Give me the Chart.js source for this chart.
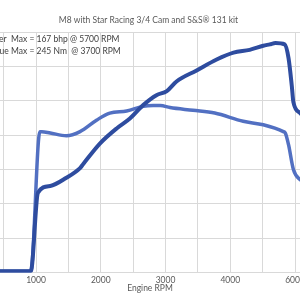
<!DOCTYPE html>
<html>
<head>
<meta charset="utf-8">
<script src="https://cdn.jsdelivr.net/npm/chart.js@4.4.1/dist/chart.umd.min.js"></script>
<style>
  html, body { margin: 0; padding: 0; width: 300px; height: 300px; overflow: hidden; background: #fff; }
  #wrap { position: absolute; left: -20px; top: 0; width: 360px; height: 300px; }
</style>
</head>
<body>
<div id="wrap"><canvas id="c" width="360" height="300"></canvas></div>
<script>
// ---- data ----
const chartTitle = 'M8 with Star Racing 3/4 Cam and S&S\u00AE 131 kit';
const powerNote = 'Power  Max = 167 bhp @ 5700 RPM';
const torqueNote = 'Torque Max = 245 Nm  @ 3700 RPM';
const xAxisTitle = 'Engine RPM';

const powerRpm = [0, 920, 1030, 1220, 1470, 1680, 1730, 1990, 2250, 2450, 2660, 2860, 3020, 3170, 3480, 3790, 4050, 4300, 4510, 4610, 4700, 4840, 4900, 4950, 4975, 5080, 5200];
const powerBhp = [1, 1, 58, 63, 69, 76, 79, 94, 105, 112, 122, 129, 132, 139, 147, 155, 160, 162, 165, 166, 167, 166, 156, 136, 124, 116, 110];

const torqueRpm = [0, 920, 1060, 1090, 1220, 1470, 1680, 1940, 2140, 2400, 2660, 2810, 2920, 3070, 3425, 3760, 4200, 4510, 4820, 4850, 4900, 4975, 5080, 5200];
const torqueNm = [2, 2, 205, 205, 203, 199, 205, 222, 232, 235, 242, 243, 243, 240, 236, 232, 220, 215, 205, 203, 186, 150, 135, 130];

const xGridValues = [500, 1000, 1500, 2000, 2500, 3000, 3500, 4000, 4500, 5000];
const xTickLabels = ['', '1000', '', '2000', '', '3000', '', '4000', '', '6000'];

const powerColor = '#2E4C9F';
const torqueColor = '#5270C2';
const gridColor = '#D9D9D9';
const textColor = '#595959';
const FONT = 'Lato, "Liberation Sans", sans-serif';
const FS = 8.5;

const toPoints = (xs, ys) => xs.map((x, i) => ({ x: x, y: ys[i] }));

const textPlugin = {
  id: 'texts',
  afterDraw(chart) {
    const ctx = chart.ctx;
    const off = 20; // canvas is shifted 20px left of the page
    ctx.save();
    ctx.font = FS + 'px ' + FONT;
    ctx.fillStyle = textColor;
    ctx.textBaseline = 'middle';
    ctx.textAlign = 'center';
    ctx.fillText(chartTitle, 148.5 + off, 20);
    ctx.textAlign = 'left';
    ctx.fillStyle = '#404040';
    const p1 = ctx.measureText('Power  ').width;
    const p2 = ctx.measureText('Torque ').width;
    ctx.fillText(powerNote, 11 + off - p1, 39);
    ctx.fillText(torqueNote, 11 + off - p2, 51);
    ctx.restore();
  }
};

new Chart(document.getElementById('c'), {
  type: 'line',
  data: {
    datasets: [
      { label: 'Power', data: toPoints(powerRpm, powerBhp), yAxisID: 'yP',
        borderColor: powerColor, borderWidth: 4, pointRadius: 0, cubicInterpolationMode: 'monotone', fill: false },
      { label: 'Torque', data: toPoints(torqueRpm, torqueNm), yAxisID: 'yT',
        borderColor: torqueColor, borderWidth: 3.5, pointRadius: 0, cubicInterpolationMode: 'monotone', fill: false }
    ]
  },
  options: {
    responsive: false,
    animation: false,
    devicePixelRatio: 1,
    layout: { padding: { left: 0, right: 20, top: 32, bottom: 0 } },
    plugins: { legend: { display: false }, tooltip: { enabled: false }, title: { display: false } },
    scales: {
      x: {
        type: 'linear',
        min: 135, max: 5386,
        afterBuildTicks: s => { s.ticks = xGridValues.map(v => ({ value: v })); },
        afterFit: s => { s.height = 27.5; },
        grid: { color: gridColor, lineWidth: 1, drawTicks: false },
        border: { display: false },
        ticks: {
          autoSkip: false, maxRotation: 0, padding: 3,
          color: textColor, font: { family: FONT, size: FS },
          callback: (v) => { const i = xGridValues.indexOf(v); return i >= 0 ? xTickLabels[i] : ''; }
        },
        title: { display: true, text: xAxisTitle, color: textColor, font: { family: FONT, size: FS }, padding: { top: 0, bottom: 7 } }
      },
      yT: {
        type: 'linear', position: 'left', min: 0, max: 350,
        ticks: { display: false, stepSize: 50 },
        afterFit: s => { s.width = 0; },
        grid: { color: gridColor, lineWidth: 1, drawTicks: false },
        border: { display: false }
      },
      yP: {
        type: 'linear', position: 'right', min: 0, max: 175, display: false
      }
    }
  },
  plugins: [textPlugin]
});
</script>
</body>
</html>
